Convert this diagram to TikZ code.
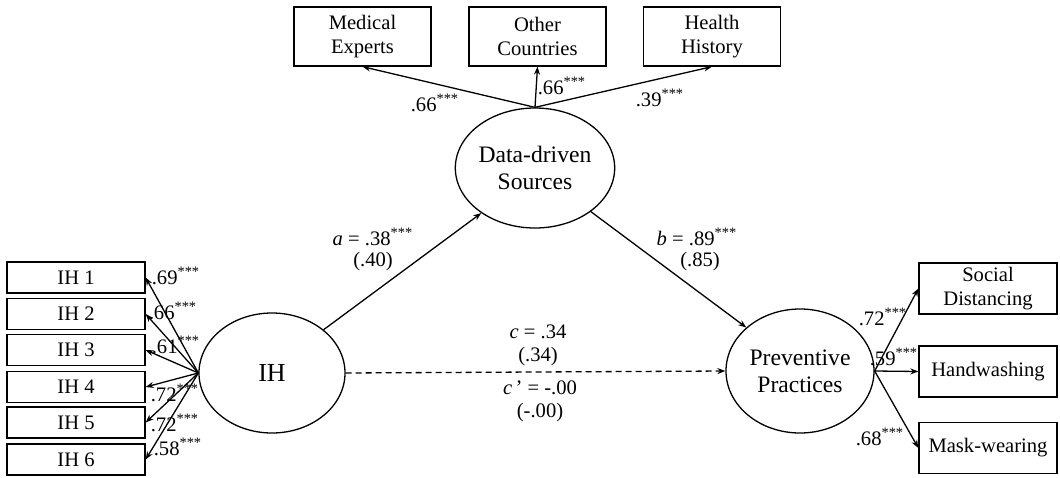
\documentclass[tikz,border=0pt]{standalone}
\usepackage{fontspec}
\setmainfont{Liberation Serif}
\usetikzlibrary{arrows.meta,shapes.geometric}
\begin{document}
\begin{tikzpicture}[x=0.5pt,y=-0.5pt,
  every node/.style={font=\fontsize{10.3}{12.2}\selectfont},
  ind/.style={draw,line width=0.65pt,rectangle,inner sep=0pt,align=center},
  topbox/.style={ind,minimum width=68.5pt,minimum height=29.5pt},
  ihbox/.style={ind,minimum width=69pt,minimum height=15.5pt},
  outbox/.style={ind,minimum width=69pt,minimum height=25.5pt},
  latent/.style={draw,line width=0.65pt,ellipse,inner sep=0pt,align=center,
    minimum width=73pt,minimum height=60pt,font=\fontsize{11.8}{13.5}\selectfont},
  path/.style={line width=0.65pt,-{Stealth[length=4pt,width=3pt]}},
  coef/.style={inner sep=0pt,align=center}
]
\useasboundingbox (0,0) rectangle (1060,477);

% latent variables
\node[latent] (dds) at (535,168) {Data-driven\\Sources};
\node[latent,font=\fontsize{13}{15}\selectfont] (ih) at (272,373) {IH};
\node[latent,minimum width=74pt,minimum height=62pt] (prev) at (800,371) {Preventive\\Practices};

% indicators of the data-driven sources factor
\node[topbox] (med) at (362.5,36.5) {Medical\\Experts};
\node[topbox] (oth) at (537.5,36.5) {Other\\Countries};
\node[topbox] (hist) at (712,36.5) {Health\\History};

% indicators of IH
\node[ihbox] (ih1) at (76,277.5) {IH 1};
\node[ihbox] (ih2) at (76,314) {IH 2};
\node[ihbox] (ih3) at (76,350) {IH 3};
\node[ihbox] (ih4) at (76,387) {IH 4};
\node[ihbox] (ih5) at (76,422.5) {IH 5};
\node[ihbox] (ih6) at (76,459.5) {IH 6};

% indicators of preventive practices
\node[outbox] (soc) at (988,288.5) {Social\\Distancing};
\node[outbox] (hand) at (988,371.5) {Handwashing};
\node[outbox] (mask) at (988,448) {Mask-wearing};

% loadings
\draw[path] (dds.north) -- (med.south);
\draw[path] (dds.north) -- (oth.south);
\draw[path] (dds.north) -- (hist.south);
\foreach \k in {1,...,6} \draw[path] (ih.west) -- (ih\k.east);
\draw[path] (prev.east) -- (soc.west);
\draw[path] (prev.east) -- (hand.west);
\draw[path] (prev.east) -- (mask.west);

% structural paths
\draw[path] (ih.40) -- (dds.220);
\draw[path] (dds.322) -- (prev.141);
\draw[path,dashed,dash pattern=on 3pt off 2pt] (ih.east) -- (prev.west);

% loading estimates
\node[coef] at (435,103) {.66\textsuperscript{***}};
\node[coef] at (562,86) {.66\textsuperscript{***}};
\node[coef] at (660,98) {.39\textsuperscript{***}};
\node[coef] at (176,276) {.69\textsuperscript{***}};
\node[coef] at (173,311) {.66\textsuperscript{***}};
\node[coef] at (176,345) {.61\textsuperscript{***}};
\node[coef] at (175,393) {.72\textsuperscript{***}};
\node[coef] at (175,423) {.72\textsuperscript{***}};
\node[coef] at (178,447) {.58\textsuperscript{***}};
\node[coef] at (883,317) {.72\textsuperscript{***}};
\node[coef] at (894,357) {.59\textsuperscript{***}};
\node[coef] at (880,437) {.68\textsuperscript{***}};

% path estimates
\node[coef] at (373,237) {\textit{a} = .38\textsuperscript{***}};
\node[coef] at (373,262) {(.40)};
\node[coef] at (697,237) {\textit{b} = .89\textsuperscript{***}};
\node[coef] at (700,262) {(.85)};
\node[coef] at (538,332) {\textit{c} = .34};
\node[coef] at (538,357) {(.34)};
\node[coef] at (540,388) {\textit{c}\,’ = -.00};
\node[coef] at (540,413) {(-.00)};
\end{tikzpicture}
\end{document}
